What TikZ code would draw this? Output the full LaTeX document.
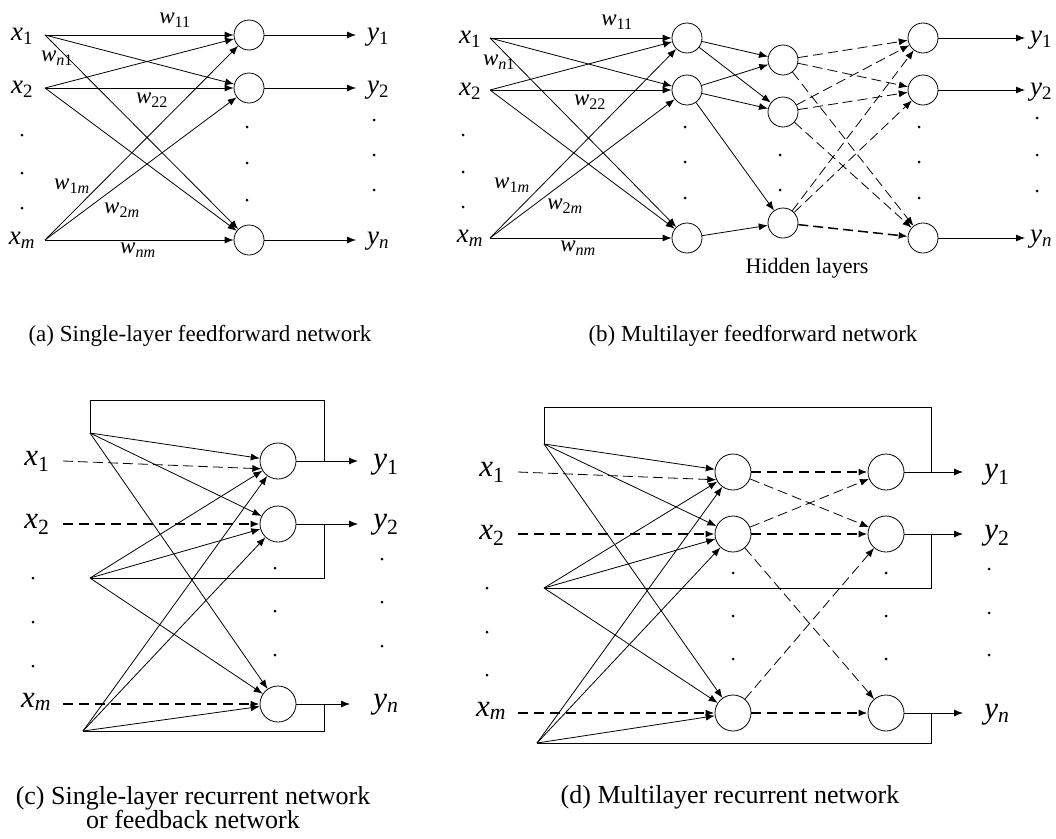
\documentclass[tikz,border=0pt]{standalone}
\usepackage{fontspec}
\setmainfont{Liberation Serif}
\usetikzlibrary{arrows.meta}

\newcommand{\lab}[2]{\textit{#1}\textsubscript{#2}}

\begin{document}
\begin{tikzpicture}[x=1pt, y=-1pt, >={Latex[length=9pt,width=7pt]}, line width=0.8pt,
    neuron/.style={draw, circle, minimum size=30pt, inner sep=0pt},
    bigneuron/.style={draw, circle, minimum size=36pt, inner sep=0pt},
    xlab/.style={font=\fontsize{27}{27}\selectfont, inner sep=0pt},
    bigxlab/.style={font=\fontsize{31}{31}\selectfont, inner sep=0pt},
    wlab/.style={font=\fontsize{23}{23}\selectfont, inner sep=0pt},
    caption/.style={font=\fontsize{23}{23}\selectfont, align=center},
    bigcaption/.style={font=\fontsize{26}{24}\selectfont, align=center},
    thin dash/.style={dash pattern=on 10pt off 5pt},
    thick dash/.style={line width=2.8pt, dash pattern=on 10pt off 6pt}]
    \useasboundingbox (0,0) rectangle (1056,838);

    % (a) single-layer feedforward
    \coordinate (ia1) at (45,35);
    \coordinate (ia2) at (45,88);
    \coordinate (ia3) at (45,240);
    \node[xlab] (xa1) at (22,36) {\lab{x}{1}};
    \node[xlab] (xa2) at (22,89) {\lab{x}{2}};
    \node[xlab] (xa3) at (22,240) {\lab{x}{\textit{m}}};
    \node[neuron] (na1) at (249,35) {};
    \node[neuron] (na2) at (249,88) {};
    \node[neuron] (na3) at (249,240) {};
    \coordinate (oa1) at (356,35);
    \coordinate (oa2) at (356,88);
    \coordinate (oa3) at (356,240);
    \node[xlab] (ya1) at (378,37) {\lab{y}{1}};
    \node[xlab] (ya2) at (378,90) {\lab{y}{2}};
    \node[xlab] (ya3) at (378,241) {\lab{y}{\textit{n}}};
    \foreach \yy in {135,173,208} \fill (22,\yy) circle (1.5pt);
    \foreach \yy in {127,163,200} \fill (247,\yy) circle (1.5pt);
    \foreach \yy in {120,155,190} \fill (374,\yy) circle (1.5pt);
    \foreach \i in {1,2,3}
        \foreach \j in {1,2,3}
            \draw[->] (ia\i) -- (na\j);
    \foreach \j in {1,2,3}
        \draw[->] (na\j) -- (oa\j);
    \node[wlab] (wa11) at (175,20) {\lab{w}{11}};
    \node[wlab] (wan1) at (57,58) {\lab{w}{\textit{n}1}};
    \node[wlab] (wa22) at (152,100) {\lab{w}{22}};
    \node[wlab] (wa1m) at (72,186) {\lab{w}{1\textit{m}}};
    \node[wlab] (wa2m) at (122,210) {\lab{w}{2\textit{m}}};
    \node[wlab] (wanm) at (138,250) {\lab{w}{\textit{nm}}};
    \node[caption] (capa) at (200,336) {(a) Single-layer feedforward network};

    % (b) multilayer feedforward
    \coordinate (ib1) at (490,38);
    \coordinate (ib2) at (490,90);
    \coordinate (ib3) at (490,238);
    \node[xlab] (xb1) at (470,39) {\lab{x}{1}};
    \node[xlab] (xb2) at (470,91) {\lab{x}{2}};
    \node[xlab] (xb3) at (470,238) {\lab{x}{\textit{m}}};
    \node[neuron] (nb1) at (687,38) {};
    \node[neuron] (nb2) at (687,90) {};
    \node[neuron] (nb3) at (687,238) {};
    \node[neuron] (hb1) at (783,60) {};
    \node[neuron] (hb2) at (783,112) {};
    \node[neuron] (hb3) at (783,223) {};
    \node[neuron] (ob1) at (923,38) {};
    \node[neuron] (ob2) at (923,90) {};
    \node[neuron] (ob3) at (923,238) {};
    \coordinate (eb1) at (1025,38);
    \coordinate (eb2) at (1025,90);
    \coordinate (eb3) at (1025,238);
    \node[xlab] (yb1) at (1041,40) {\lab{y}{1}};
    \node[xlab] (yb2) at (1041,92) {\lab{y}{2}};
    \node[xlab] (yb3) at (1041,239) {\lab{y}{\textit{n}}};
    \foreach \yy in {135,172,207} \fill (463,\yy) circle (1.5pt);
    \foreach \yy in {127,162,198} \fill (685,\yy) circle (1.5pt);
    \foreach \yy in {155,190} \fill (780,\yy) circle (1.5pt);
    \foreach \yy in {127,162,198} \fill (919,\yy) circle (1.5pt);
    \foreach \yy in {118,155,191} \fill (1037,\yy) circle (1.5pt);
    \foreach \i in {1,2,3}
        \foreach \j in {1,2,3}
            \draw[->] (ib\i) -- (nb\j);
    \foreach \i/\j in {1/1,1/2,2/1,2/2,2/3,3/3}
        \draw[->] (nb\i) -- (hb\j);
    \foreach \i/\j in {1/1,1/2,1/3,2/1,2/2,2/3,3/1,3/2}
        \draw[->, thin dash] (hb\i) -- (ob\j);
    \draw[->, thin dash, line width=1.5pt] (hb3) -- (ob3);
    \foreach \j in {1,2,3}
        \draw[->] (ob\j) -- (eb\j);
    \node[wlab] (wb11) at (617,22) {\lab{w}{11}};
    \node[wlab] (wbn1) at (499,62) {\lab{w}{\textit{n}1}};
    \node[wlab] (wb22) at (590,102) {\lab{w}{22}};
    \node[wlab] (wb1m) at (512,185) {\lab{w}{1\textit{m}}};
    \node[wlab] (wb2m) at (565,206) {\lab{w}{2\textit{m}}};
    \node[wlab] (wbnm) at (578,248) {\lab{w}{\textit{nm}}};
    \node[font=\fontsize{22}{22}\selectfont] (hid) at (807,268) {Hidden layers};
    \node[caption] (capb) at (753,336) {(b) Multilayer feedforward network};

    % (c) single-layer recurrent
    \coordinate (ic1) at (63,461);
    \coordinate (ic2) at (63,524);
    \coordinate (ic3) at (63,704);
    \node[bigxlab] (xc1) at (37,461) {\lab{x}{1}};
    \node[bigxlab] (xc2) at (37,524) {\lab{x}{2}};
    \node[bigxlab] (xc3) at (36,702) {\lab{x}{\textit{m}}};
    \node[bigneuron] (nc1) at (278,461) {};
    \node[bigneuron] (nc2) at (278,524) {};
    \node[bigneuron] (nc3) at (278,704) {};
    \coordinate (oc1) at (358,461);
    \coordinate (oc2) at (358,524);
    \coordinate (oc3) at (350,704);
    \coordinate (tc1) at (324,461);
    \coordinate (tc2) at (324,524);
    \coordinate (tc3) at (324,704);
    \coordinate (fc1) at (90,433);
    \coordinate (fc2) at (90,578);
    \coordinate (fc3) at (83,731);
    \node[bigxlab] (yc1) at (386,465) {\lab{y}{1}};
    \node[bigxlab] (yc2) at (386,525) {\lab{y}{2}};
    \node[bigxlab] (yc3) at (386,705) {\lab{y}{\textit{n}}};
    \foreach \yy in {578,622,666} \fill (33,\yy) circle (1.5pt);
    \foreach \yy in {568,611,655} \fill (275,\yy) circle (1.5pt);
    \foreach \yy in {559,602,646} \fill (382,\yy) circle (1.5pt);
    \draw[->, thin dash] (ic1) -- (nc1.205);
    \draw[->, thick dash] (ic2) -- (nc2);
    \draw[->, thick dash] (ic3) -- (nc3);
    \foreach \i in {1,2,3}
        \foreach \j in {1,2,3}
            \draw[->] (fc\i) -- (nc\j);
    \foreach \j in {1,2,3}
        \draw[->] (nc\j) -- (oc\j);
    \draw (tc1) -- ++(0,-61) -| (fc1);
    \draw (tc2) |- (fc2);
    \draw (tc3) |- (fc3);
    \node[bigcaption] (capc) at (193,808) {(c) Single-layer recurrent network\\or feedback network};

    % (d) multilayer recurrent
    \coordinate (id1) at (518,472);
    \coordinate (id2) at (518,534);
    \coordinate (id3) at (518,713);
    \node[bigxlab] (xd1) at (492,472) {\lab{x}{1}};
    \node[bigxlab] (xd2) at (492,535) {\lab{x}{2}};
    \node[bigxlab] (xd3) at (491,711) {\lab{x}{\textit{m}}};
    \node[bigneuron] (nd1) at (733,472) {};
    \node[bigneuron] (nd2) at (733,534) {};
    \node[bigneuron] (nd3) at (733,713) {};
    \node[bigneuron] (hd1) at (886,472) {};
    \node[bigneuron] (hd2) at (886,534) {};
    \node[bigneuron] (hd3) at (886,713) {};
    \coordinate (od1) at (963,472);
    \coordinate (od2) at (963,534);
    \coordinate (od3) at (963,713);
    \coordinate (td1) at (931,472);
    \coordinate (td2) at (931,534);
    \coordinate (td3) at (931,713);
    \coordinate (fd1) at (544,444);
    \coordinate (fd2) at (544,588);
    \coordinate (fd3) at (537,743);
    \node[bigxlab] (yd1) at (997,475) {\lab{y}{1}};
    \node[bigxlab] (yd2) at (997,536) {\lab{y}{2}};
    \node[bigxlab] (yd3) at (997,715) {\lab{y}{\textit{n}}};
    \foreach \yy in {588,632,675} \fill (487,\yy) circle (1.5pt);
    \foreach \yy in {573,616,659} \fill (733,\yy) circle (1.5pt);
    \foreach \yy in {573,616,659} \fill (886,\yy) circle (1.5pt);
    \foreach \yy in {569,613,655} \fill (989,\yy) circle (1.5pt);
    \draw[->, thin dash] (id1) -- (nd1.205);
    \draw[->, thick dash] (id2) -- (nd2);
    \draw[->, thick dash] (id3) -- (nd3);
    \foreach \i in {1,2,3}
        \foreach \j in {1,2,3}
            \draw[->] (fd\i) -- (nd\j);
    \foreach \j in {1,2,3}
        \draw[->, thick dash] (nd\j) -- (hd\j);
    \foreach \i/\j in {1/2,2/1,2/3,3/2}
        \draw[->, thin dash] (nd\i) -- (hd\j);
    \foreach \j in {1,2,3}
        \draw[->] (hd\j) -- (od\j);
    \draw (td1) -- ++(0,-65) -| (fd1);
    \draw (td2) |- (fd2);
    \draw (td3) |- (fd3);
    \node[bigcaption] (capd) at (730,797) {(d) Multilayer recurrent network};
\end{tikzpicture}
\end{document}
